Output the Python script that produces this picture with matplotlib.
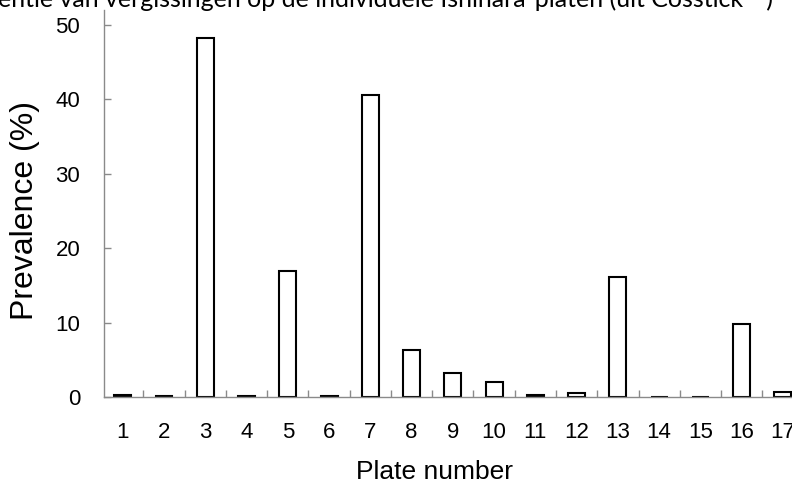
import matplotlib
matplotlib.use("Agg")
import matplotlib.pyplot as plt
from matplotlib.ticker import FixedLocator

plt.rcParams["font.family"] = ["Liberation Sans", "DejaVu Sans"]

PLATES = list(range(1, 18))
PREVALENCE = [0.25, 0.2, 48.3, 0.2, 17.0, 0.15, 40.6, 6.3, 3.2, 2.0,
              0.3, 0.5, 16.1, 0.05, 0.05, 9.8, 0.7]
Y_TICKS = [0, 10, 20, 30, 40, 50]
TITLE = "entie van vergissingen op de individuele Ishihara-platen (uit Cosstick \u00b2\u2075)"

AXIS_GREY = "#8a8a8a"


def main():
    fig = plt.figure(figsize=(7.92, 4.83), dpi=100)
    ax = fig.add_axes([0.131, 0.178, 0.869, 0.801])

    ax.bar(PLATES, PREVALENCE, width=0.41, color="white",
           edgecolor="black", linewidth=1.5)

    ax.set_xlim(0.54, 17.22)
    ax.set_ylim(0, 52)

    for side in ("top", "right"):
        ax.spines[side].set_visible(False)
    for side in ("left", "bottom"):
        ax.spines[side].set_color(AXIS_GREY)
        ax.spines[side].set_linewidth(1.0)

    ax.set_xticks(PLATES)
    ax.set_xticklabels([str(p) for p in PLATES])
    ax.xaxis.set_minor_locator(FixedLocator([p + 0.5 for p in PLATES[:-1]]))
    ax.tick_params(axis="x", which="major", length=0, pad=18, labelsize=16)
    ax.tick_params(axis="x", which="minor", direction="in", length=5,
                   color=AXIS_GREY, width=1)

    ax.set_yticks(Y_TICKS)
    ax.tick_params(axis="y", direction="in", length=5, color=AXIS_GREY,
                   width=1, pad=17, labelsize=16)

    ax.set_xlabel("Plate number", fontsize=19)
    ax.xaxis.set_label_coords(0.481, -0.162)
    ax.set_ylabel("Prevalence (%)", fontsize=23)
    ax.yaxis.set_label_coords(-0.093, 0.483)

    fig.text(-0.003, 0.986, TITLE, fontsize=18, ha="left", va="baseline",
             family=["Lato", "DejaVu Sans"])

    fig.savefig("out.png", dpi=100)


if __name__ == "__main__":
    main()
